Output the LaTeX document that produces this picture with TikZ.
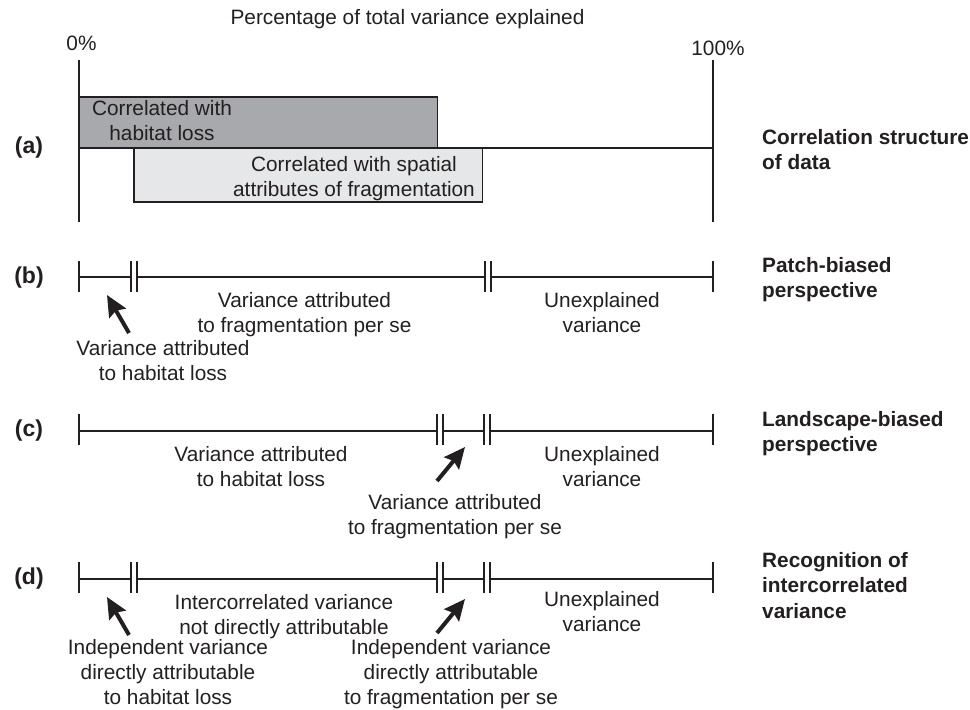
\documentclass[tikz,border=0pt]{standalone}
\usepackage{fontspec}
\setmainfont{Liberation Sans}
\usetikzlibrary{arrows.meta}
\definecolor{ink}{HTML}{231F20}
\definecolor{darkfill}{HTML}{A7A9AC}
\definecolor{lightfill}{HTML}{E6E7E8}
\begin{document}
\begin{tikzpicture}[x=1pt,y=-1pt,
  % multi-line text nodes are placed by the baseline of their last line
  txt/.style={font=\fontsize{20.8}{25}\selectfont, inner sep=0pt, align=center, anchor=base, text=ink},
  side/.style={font=\bfseries\fontsize{20.8}{25.5}\selectfont, inner sep=0pt, align=left, anchor=base west, text=ink},
  rowlabel/.style={font=\bfseries\fontsize{23}{27}\selectfont, inner sep=0pt, text=ink},
  scaleline/.style={draw=ink, line width=1.8pt},
  boxline/.style={draw=ink, line width=1.8pt},
  bigarrow/.style={draw=ink, fill=ink, line width=4pt, -{Stealth[length=21pt,width=19pt,inset=3pt]}}
]
\useasboundingbox (0,0) rectangle (970,710);

% axis header
\node[txt] (title) at (407.5,24) {Percentage of total variance explained};
\node[txt] (zero) at (81.5,50) {0\%};
\node[txt] (hundred) at (718,55) {100\%};

% ---------- (a) correlation structure ----------
\node[rowlabel] (la) at (29,148) {(a)};
\draw[scaleline] (79,60) -- (79,222);
\draw[scaleline] (713,60) -- (713,222);
\draw[scaleline] (79,148) -- (713,148);
\draw[boxline, fill=darkfill] (79,97) rectangle (437.5,148);
\draw[boxline, fill=lightfill] (134,148) rectangle (482.5,202);
\node[txt] (habbox) at (162,140.7) {Correlated with\\habitat loss};
\node[txt] (spabox) at (354,196.7) {Correlated with spatial\\attributes of fragmentation};
\node[side] (sa) at (762,169.5) {Correlation structure\\of data};

% ---------- (b) patch-biased ----------
\node[rowlabel] (lb) at (29,278) {(b)};
\draw[scaleline] (79,277) -- (131,277) (137,277) -- (485,277) (491,277) -- (713,277);
\draw[scaleline] \foreach \x in {79,131,137,485,491,713} {(\x,261) -- (\x,292)};
\node[txt] (b1) at (304.5,332) {Variance attributed\\to fragmentation per se};
\node[txt] (b2) at (602,332) {Unexplained\\variance};
\node[txt] (b3) at (163,380) {Variance attributed\\to habitat loss};
\coordinate (btail) at (129,333);
\coordinate (btip) at (107,295);
\draw[bigarrow] (btail) -- (btip);
\node[side] (sb) at (762,297.5) {Patch-biased\\perspective};

% ---------- (c) landscape-biased ----------
\node[rowlabel] (lc) at (29,431) {(c)};
\draw[scaleline] (79,431) -- (437,431) (443,431) -- (484,431) (490,431) -- (713,431);
\draw[scaleline] \foreach \x in {79,437,443,484,490,713} {(\x,414) -- (\x,445)};
\node[txt] (c1) at (261,486) {Variance attributed\\to habitat loss};
\node[txt] (c2) at (602,486) {Unexplained\\variance};
\node[txt] (c3) at (455,534) {Variance attributed\\to fragmentation per se};
\coordinate (ctail) at (437,481);
\coordinate (ctip) at (465,447);
\draw[bigarrow] (ctail) -- (ctip);
\node[side] (sc) at (762,451.5) {Landscape-biased\\perspective};

% ---------- (d) intercorrelated ----------
\node[rowlabel] (ld) at (29,579) {(d)};
\draw[scaleline] (79,579) -- (131,579) (137,579) -- (437,579) (443,579) -- (484,579) (490,579) -- (713,579);
\draw[scaleline] \foreach \x in {79,131,137,437,443,484,490,713} {(\x,562) -- (\x,593)};
\node[txt] (d1) at (284,634) {Intercorrelated variance\\not directly attributable};
\node[txt] (d2) at (602,631) {Unexplained\\variance};
\node[txt] (d3) at (168,704) {Independent variance\\directly attributable\\to habitat loss};
\node[txt] (d4) at (451,704) {Independent variance\\directly attributable\\to fragmentation per se};
\coordinate (dltail) at (129,635);
\coordinate (dltip) at (107,597);
\draw[bigarrow] (dltail) -- (dltip);
\coordinate (drtail) at (437,633);
\coordinate (drtip) at (465,599);
\draw[bigarrow] (drtail) -- (drtip);
\node[side] (sd) at (762,618) {Recognition of\\intercorrelated\\variance};
\end{tikzpicture}
\end{document}
